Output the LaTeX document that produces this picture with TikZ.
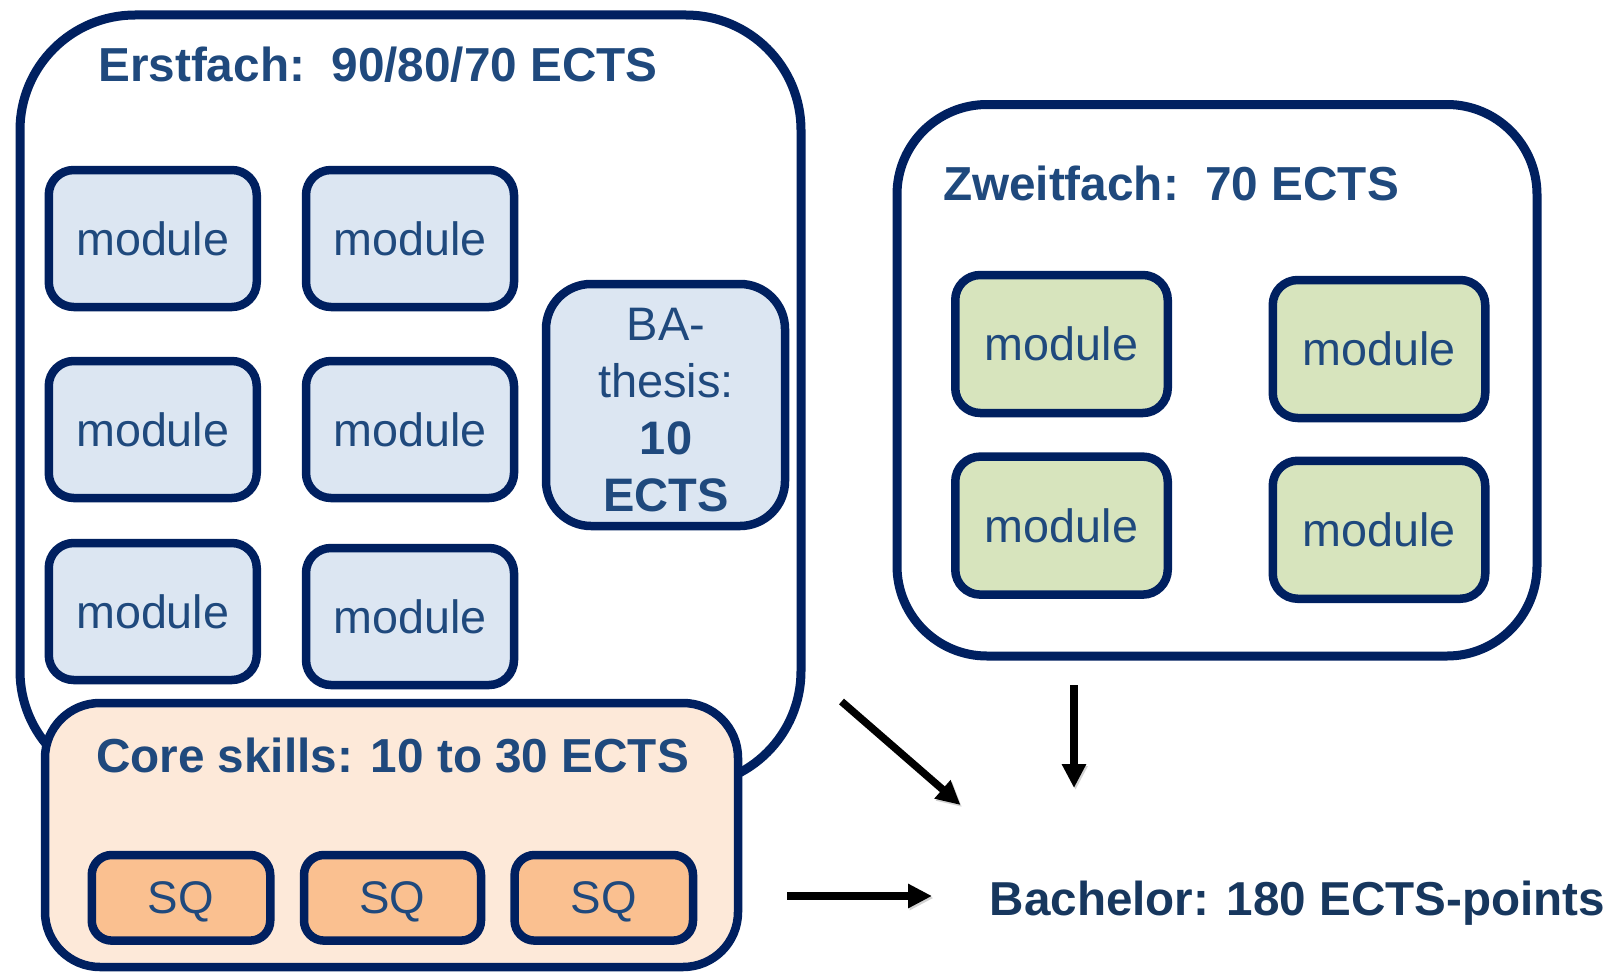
\documentclass[tikz,border=0pt]{standalone}
\usepackage{fontspec}
\setmainfont{Liberation Sans}
\usetikzlibrary{arrows.meta}
\definecolor{navy}{HTML}{002060}
\definecolor{txt}{HTML}{1F497D}
\definecolor{bach}{HTML}{17375E}
\definecolor{lblue}{HTML}{DCE6F2}
\definecolor{lgreen}{HTML}{D7E4BD}
\definecolor{lpeach}{HTML}{FDE9D9}
\definecolor{sqor}{HTML}{FAC090}
\begin{document}
\begin{tikzpicture}[x=1pt,y=-1pt,
  every node/.style={inner sep=0pt,outer sep=0pt},
  container/.style={draw=navy,line width=9pt,fill=white},
  modbox/.style={draw=navy,line width=8.5pt,rounded corners=25pt,
    minimum width=208pt,minimum height=137pt,text=txt,
    font=\fontsize{46.7}{50}\selectfont},
  bluemod/.style={modbox,fill=lblue},
  greenmod/.style={modbox,fill=lgreen,minimum width=212.5pt,minimum height=138pt},
  sqbox/.style={draw=navy,line width=8.5pt,rounded corners=20pt,fill=sqor,
    minimum height=85.6pt,text=txt,text depth=0pt,font=\fontsize{45.7}{50}\selectfont},
  titletext/.style={anchor=base,text=txt,font=\fontsize{47.7}{57}\selectfont\bfseries},
  arr/.style={line width=7.5pt,-{Triangle[length=24pt,width=23pt]},
    preaction={draw=black!35,opacity=0.5,transform canvas={shift={(1.5pt,-2pt)}}}}
]
\useasboundingbox (0,0) rectangle (1624,974);
\fill[white] (0,0) rectangle (1624,974);

% Erstfach container
\node[container,rounded corners=115pt,minimum width=781pt,minimum height=771pt] (erst) at (410.5,400.5) {};
\node[titletext] (erstt) at (378,81.3) {Erstfach:\ \ 90/80/70 ECTS};

\node[bluemod] (m11) at (152.75,238.5) {module};
\node[bluemod] (m12) at (410,238.5) {module};
\node[bluemod] (m21) at (152.75,429.5) {module};
\node[bluemod] (m22) at (410,429.5) {module};
\node[bluemod] (m31) at (152.75,611.5) {module};
\node[bluemod] (m32) at (410,616.5) {module};

\node[draw=navy,line width=8.5pt,rounded corners=45pt,fill=lblue,
  minimum width=239pt,minimum height=242pt] (ba) at (665.5,405) {};
\node[text=txt,align=center,font=\fontsize{47}{57}\selectfont] (bat) at (666,410)
  {BA-\\thesis:\\\textbf{10}\\\textbf{ECTS}};

% Zweitfach container
\node[container,rounded corners=90pt,minimum width=640pt,minimum height=551.5pt] (zweit) at (1217,380.25) {};
\node[titletext] (zweitt) at (1171,200) {Zweitfach:\ \ 70 ECTS};
\node[greenmod] (g11) at (1061.5,344) {module};
\node[greenmod] (g12) at (1379,349) {module};
\node[greenmod] (g21) at (1061.5,525.6) {module};
\node[greenmod] (g22) at (1379,529.75) {module};

% Core skills
\node[draw=navy,line width=8.5pt,rounded corners=55pt,fill=lpeach,
  minimum width=693pt,minimum height=264pt] (core) at (391.5,835) {};
\node[titletext] (coret) at (392.5,772.7) {Core skills: 10 to 30 ECTS};
\node[sqbox,minimum width=178.5pt] (sq1) at (181,897.8) {SQ};
\node[sqbox,minimum width=177pt] (sq2) at (392.5,897.8) {SQ};
\node[sqbox,minimum width=178.4pt] (sq3) at (603.8,897.8) {SQ};

% Bachelor
\node[anchor=base,text=bach,font=\fontsize{47.6}{57}\selectfont\bfseries] (bach) at (1297.5,915.6) {Bachelor: 180 ECTS-points};

% arrows
\coordinate (d1s) at (841.5,701.5);
\coordinate (d1e) at (960.5,805);
\coordinate (v1s) at (1074,685);
\coordinate (v1e) at (1074,788);
\coordinate (h1s) at (787,896);
\coordinate (h1e) at (932,896);
\draw[arr] (d1s) -- (d1e);
\draw[arr] (v1s) -- (v1e);
\draw[arr] (h1s) -- (h1e);
\end{tikzpicture}
\end{document}
